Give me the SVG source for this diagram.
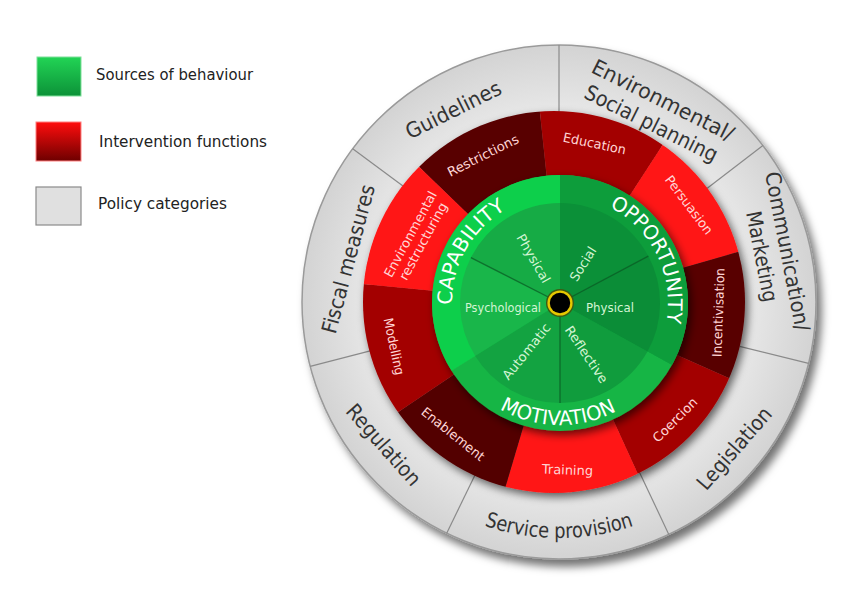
<svg xmlns="http://www.w3.org/2000/svg" width="844" height="598" viewBox="0 0 844 598">
<defs>
<style>
.leg{font-family:"DejaVu Sans","Liberation Sans",sans-serif;font-size:15px;fill:#222}
.pol{font-family:"DejaVu Sans","Liberation Sans",sans-serif;font-size:21px;fill:#333;text-anchor:middle;dominant-baseline:central}
.int{font-family:"DejaVu Sans","Liberation Sans",sans-serif;font-size:13px;fill:#ffd6d6;text-anchor:middle;dominant-baseline:central}
.sub{font-family:"DejaVu Sans","Liberation Sans",sans-serif;font-size:13px;fill:#d4f5d4;text-anchor:middle;dominant-baseline:central}
.big{font-family:"DejaVu Sans","Liberation Sans",sans-serif;font-size:20px;fill:#fff;text-anchor:middle}
.div{stroke:#8a8a8a;stroke-width:1.2}
.gl{stroke:#0b5a24;stroke-width:1.3;stroke-opacity:0.75}
</style>
<linearGradient id="lgG" x1="0" y1="0" x2="0" y2="1"><stop offset="0" stop-color="#22d455"/><stop offset="1" stop-color="#0c9238"/></linearGradient>
<linearGradient id="lgR" x1="0" y1="0" x2="0" y2="1"><stop offset="0" stop-color="#ff0d0d"/><stop offset="1" stop-color="#6e0000"/></linearGradient>
<radialGradient id="rgGray" cx="559" cy="302" r="257" gradientUnits="userSpaceOnUse"><stop offset="0.72" stop-color="#e9e9e9"/><stop offset="1" stop-color="#d3d3d3"/></radialGradient>
<clipPath id="redClip"><circle cx="554" cy="302" r="191"/></clipPath>
<filter id="dsOuter" x="-20%" y="-20%" width="140%" height="140%"><feDropShadow dx="5" dy="7" stdDeviation="4" flood-color="#000" flood-opacity="0.55"/></filter>
<filter id="dsIn" x="-20%" y="-20%" width="140%" height="140%"><feDropShadow dx="3" dy="4" stdDeviation="4" flood-color="#000" flood-opacity="0.6"/></filter>
<path id="pCap" d="M466.47,357.0 A108,108 0 0 1 558.1,195.0"/>
<path id="pOpp" d="M567.2,195.2 A108,108 0 0 1 649.7,363.1"/>
<path id="pMot" d="M444.6,342.7 A122,122 0 0 0 673.9,346.7"/>
<path id="pSvc" d="M409.2,483.5 A233,233 0 0 0 708.8,483.5"/>
</defs>
<rect width="844" height="598" fill="#fff"/>

<g id="legend">
<g id="legend-sources"><rect x="37" y="57" width="44" height="39" fill="url(#lgG)" stroke="#7fe09a" stroke-width="1"/><text class="leg" x="96" y="80" textLength="157" lengthAdjust="spacingAndGlyphs">Sources of behaviour</text></g>
<g id="legend-interventions"><rect x="36" y="122" width="45" height="39" fill="url(#lgR)" stroke="#ff8080" stroke-width="1"/><text class="leg" x="99" y="147" textLength="168" lengthAdjust="spacingAndGlyphs">Intervention functions</text></g>
<g id="legend-policy"><rect x="36" y="187" width="45" height="38" fill="#e0e0e0" stroke="#8a8a8a" stroke-width="1.2"/><text class="leg" x="98" y="209" textLength="129" lengthAdjust="spacingAndGlyphs">Policy categories</text></g>
</g>

<g id="policy-ring">
<circle cx="559" cy="302" r="257" fill="url(#rgGray)" stroke="#9a9a9a" stroke-width="1.5" filter="url(#dsOuter)"/>
</g>

<g id="connectors">
<line class="div" x1="559" y1="116" x2="559" y2="45"/>
<line class="div" x1="706.6" y1="188.8" x2="762.9" y2="145.5"/>
<line class="div" x1="739.6" y1="346.4" x2="808.6" y2="363.3"/>
<line class="div" x1="638.5" y1="470.2" x2="668.8" y2="534.4"/>
<line class="div" x1="477.8" y1="469.3" x2="446.7" y2="533.2"/>
<line class="div" x1="378.9" y1="348.6" x2="310.2" y2="366.4"/>
<line class="div" x1="409.7" y1="191.1" x2="352.7" y2="148.8"/>
</g>

<g id="policy-labels">
<g id="p-guidelines"><text class="pol" transform="translate(453.5,110) rotate(-26.5)" textLength="104" lengthAdjust="spacingAndGlyphs">Guidelines</text></g>
<g id="p-envsocial" transform="translate(657,112) rotate(26.6)"><text class="pol" x="0" y="-13" textLength="156" lengthAdjust="spacingAndGlyphs">Environmental/</text><text class="pol" x="0" y="13" textLength="146" lengthAdjust="spacingAndGlyphs">Social planning</text></g>
<g id="p-comm" transform="translate(774.5,254) rotate(79)"><text class="pol" x="0" y="-13" textLength="162" lengthAdjust="spacingAndGlyphs">Communication/</text><text class="pol" x="0" y="13" textLength="92" lengthAdjust="spacingAndGlyphs">Marketing</text></g>
<g id="p-legislation"><text class="pol" transform="translate(734.5,448.5) rotate(-49)" textLength="102" lengthAdjust="spacingAndGlyphs">Legislation</text></g>
<g id="p-service"><text class="pol" style="dominant-baseline:auto"><textPath href="#pSvc" startOffset="50%" textLength="152" lengthAdjust="spacingAndGlyphs">Service provision</textPath></text></g>
<g id="p-regulation"><text class="pol" transform="translate(383.5,445) rotate(48.6)" textLength="101" lengthAdjust="spacingAndGlyphs">Regulation</text></g>
<g id="p-fiscal"><text class="pol" transform="translate(348.5,259) rotate(-75)" textLength="153" lengthAdjust="spacingAndGlyphs">Fiscal measures</text></g>
</g>

<g id="intervention-ring" filter="url(#dsIn)">
<g clip-path="url(#redClip)">
<g id="i-restrictions"><polygon points="560,303 534.9,64.3 387.4,136.3" fill="#580000"/></g>
<g id="i-education"><polygon points="560,303 690.7,101.7 534.9,64.3" fill="#a30000"/></g>
<g id="i-persuasion"><polygon points="560,303 790.7,236.9 690.7,101.7" fill="#ff1414"/></g>
<g id="i-incentivisation"><polygon points="560,303 779.2,400.6 790.7,236.9" fill="#580000"/></g>
<g id="i-coercion"><polygon points="560,303 659.5,521.4 779.2,400.6" fill="#a30000"/></g>
<g id="i-training"><polygon points="560,303 491.8,533.1 659.5,521.4" fill="#ff1414"/></g>
<g id="i-enablement"><polygon points="560,303 361.0,437.2 491.8,533.1" fill="#520000"/></g>
<g id="i-modelling"><polygon points="560,303 321.1,280.0 361.0,437.2" fill="#a30000"/></g>
<g id="i-envrestructuring"><polygon points="560,303 387.4,136.3 321.1,280.0" fill="#ff1414"/></g>
</g>
</g>

<g id="intervention-labels">
<text class="int" transform="translate(483,155.5) rotate(-26.6)" textLength="78" lengthAdjust="spacingAndGlyphs">Restrictions</text>
<text class="int" transform="translate(594.5,143.5) rotate(11.7)" textLength="64" lengthAdjust="spacingAndGlyphs">Education</text>
<text class="int" transform="translate(689,205) rotate(53)" textLength="70" lengthAdjust="spacingAndGlyphs">Persuasion</text>
<text class="int" transform="translate(718.5,312.5) rotate(-88)" textLength="89" lengthAdjust="spacingAndGlyphs">Incentivisation</text>
<text class="int" transform="translate(675,420) rotate(-45)" textLength="57" lengthAdjust="spacingAndGlyphs">Coercion</text>
<text class="int" transform="translate(567.5,470) rotate(2)" textLength="51" lengthAdjust="spacingAndGlyphs">Training</text>
<text class="int" transform="translate(453,434) rotate(38.7)" textLength="77" lengthAdjust="spacingAndGlyphs">Enablement</text>
<text class="int" transform="translate(394,346.5) rotate(78)" textLength="58" lengthAdjust="spacingAndGlyphs">Modelling</text>
<g transform="translate(416.75,237.75) rotate(-61.5)"><text class="int" x="0" y="-7.3" textLength="96" lengthAdjust="spacingAndGlyphs">Environmental</text><text class="int" x="0" y="7.3" textLength="86" lengthAdjust="spacingAndGlyphs">restructuring</text></g>
</g>

<g id="sources-wheel" filter="url(#dsIn)">
<g id="s-motivation-band"><circle cx="560" cy="303" r="128" fill="#16b545"/></g>
<g id="s-capability-band"><path d="M560,303 L560,175 A128,128 0 0 0 451.5,370.8 Z" fill="#10cf4c"/></g>
<g id="s-opportunity-band"><path d="M560,303 L671.9,365.1 A128,128 0 0 0 560,175 Z" fill="#0a9d3b"/></g>
</g>
<g id="sources-inner">
<g id="s-cap-physical"><path d="M560,303 L560,203 A100,100 0 0 0 470.9,257.6 Z" fill="#16ab45"/></g>
<g id="s-cap-psychological"><path d="M560,303 L470.9,257.6 A100,100 0 0 0 475.2,356.0 Z" fill="#19b64a"/></g>
<g id="s-mot-automatic"><path d="M560,303 L475.2,356.0 A100,100 0 0 0 560,403 Z" fill="#13a341"/></g>
<g id="s-mot-reflective"><path d="M560,303 L560,403 A100,100 0 0 0 647.5,351.5 Z" fill="#109c3d"/></g>
<g id="s-opp-physical"><path d="M560,303 L647.5,351.5 A100,100 0 0 0 648.3,256.1 Z" fill="#0b8d37"/></g>
<g id="s-opp-social"><path d="M560,303 L648.3,256.1 A100,100 0 0 0 560,203 Z" fill="#0b9038"/></g>
<line class="gl" x1="560" y1="303" x2="470.9" y2="257.6"/>
<line class="gl" x1="560" y1="303" x2="648.3" y2="256.1"/>
<line class="gl" x1="560" y1="303" x2="560" y2="403"/>
</g>

<g id="source-labels">
<text class="big"><textPath href="#pCap" startOffset="50%" textLength="115" lengthAdjust="spacingAndGlyphs">CAPABILITY</textPath></text>
<text class="big"><textPath href="#pOpp" startOffset="50%" textLength="138" lengthAdjust="spacingAndGlyphs">OPPORTUNITY</textPath></text>
<text class="big"><textPath href="#pMot" startOffset="50%" textLength="122" lengthAdjust="spacingAndGlyphs">MOTIVATION</textPath></text>
<text class="sub" transform="translate(533.5,258.5) rotate(60)" textLength="54" lengthAdjust="spacingAndGlyphs">Physical</text>
<text class="sub" transform="translate(583,264) rotate(-58)" textLength="38" lengthAdjust="spacingAndGlyphs">Social</text>
<text class="sub" x="503" y="307" textLength="76" lengthAdjust="spacingAndGlyphs">Psychological</text>
<text class="sub" x="610" y="307" textLength="48" lengthAdjust="spacingAndGlyphs">Physical</text>
<text class="sub" transform="translate(526.5,351.5) rotate(-51)" textLength="68" lengthAdjust="spacingAndGlyphs">Automatic</text>
<text class="sub" transform="translate(586.5,354.5) rotate(56)" textLength="66" lengthAdjust="spacingAndGlyphs">Reflective</text>
</g>

<g id="hub">
<circle cx="560" cy="303" r="14" fill="#3d5a12"/>
<circle cx="560" cy="303" r="12.6" fill="#e6c800"/>
<circle cx="560" cy="303" r="10.2" fill="#000"/>
</g>
</svg>
